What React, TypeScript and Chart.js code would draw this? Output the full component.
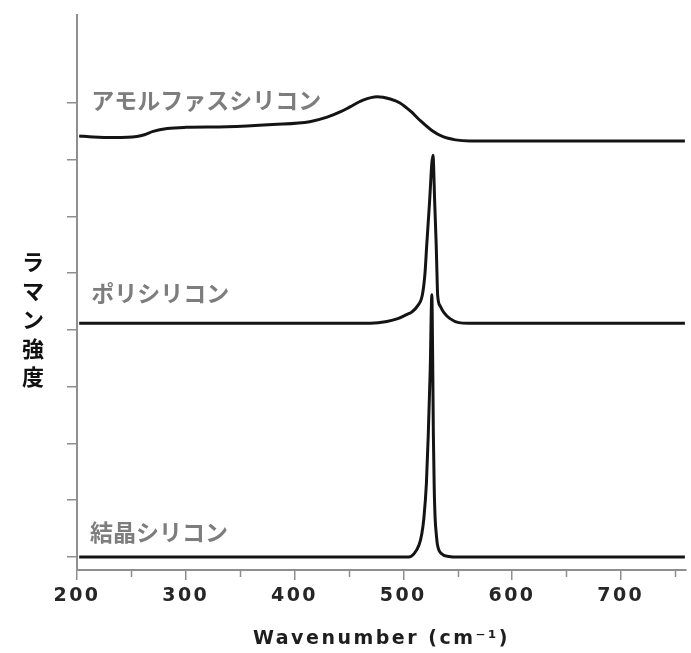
import React, { useEffect, useRef } from "react";
import { Chart, registerables } from "chart.js";

Chart.register(...registerables);

// ---- data ----
const amorphWn = [202, 215, 235, 255, 262, 270, 283, 300, 338, 380, 414, 430, 443, 451, 463, 476, 488, 497, 507, 515, 526, 536, 548, 561, 580, 759];
const amorphInt = [7.42, 7.40, 7.39, 7.41, 7.44, 7.50, 7.55, 7.57, 7.58, 7.62, 7.67, 7.75, 7.85, 7.93, 8.05, 8.11, 8.07, 8.0, 7.85, 7.70, 7.52, 7.41, 7.35, 7.33, 7.33, 7.33];

const polyWn = [202, 470, 485, 495, 503, 508, 513, 517.6, 520, 521.6, 524, 527.3, 529, 530.3, 531, 531.6, 534, 537.6, 543, 551, 560, 759];
const polyInt = [4.12, 4.12, 4.15, 4.2, 4.27, 4.32, 4.42, 4.62, 5.0, 5.5, 6.2, 7.08, 6.2, 5.5, 5.0, 4.62, 4.42, 4.3, 4.2, 4.13, 4.12, 4.12];

const crystalWn = [202, 505, 510, 514.5, 517, 519, 521.3, 523.0, 524.8, 526.3, 527.0, 527.7, 528.5, 529.3, 530.4, 531.5, 535, 542, 550, 759];
const crystalInt = [0, 0, 0.06, 0.21, 0.4, 0.69, 1.3, 2.15, 3.3, 4.62, 3.6, 2.15, 1.2, 0.69, 0.4, 0.21, 0.06, 0.01, 0, 0];

const seriesNames = ["アモルファスシリコン", "ポリシリコン", "結晶シリコン"];
const xTicks = [200, 250, 300, 350, 400, 450, 500, 550, 600, 650, 700, 750];
const yTicks = [0, 1, 2, 3, 4, 5, 6, 7, 8];
const xTitle = "Wavenumber (cm⁻¹)";
const yTitle = "ラマン強度";

const toPoints = (xs: number[], ys: number[]) => xs.map((x, i) => ({ x, y: ys[i] }));

const AXIS = "#8f8f8f";

export default function App() {
  const ref = useRef<HTMLCanvasElement | null>(null);

  useEffect(() => {
    if (!ref.current) return;

    const decor = {
      id: "decor",
      beforeDraw(chart: any) {
        chart.ctx.letterSpacing = "2.5px";
      },
      beforeDatasetsDraw(chart: any) {
        chart.ctx.letterSpacing = "0px";
      },
      afterDraw(chart: any) {
        const ctx = chart.ctx;
        const xs = chart.scales.x;
        const ys = chart.scales.y;
        ctx.save();
        ctx.letterSpacing = "0px";
        // minor ticks on x axis
        ctx.strokeStyle = AXIS;
        ctx.lineWidth = 1.5;
        xTicks.filter((v) => v % 100 !== 0).forEach((v) => {
          const px = Math.round(xs.getPixelForValue(v)) + 0.5;
          ctx.beginPath();
          ctx.moveTo(px, chart.chartArea.bottom);
          ctx.lineTo(px, chart.chartArea.bottom + 7);
          ctx.stroke();
        });
        // series labels
        const anchors = [
          { x: 213, y: 8.05 },
          { x: 213, y: 4.65 },
          { x: 212, y: 0.44 },
        ];
        ctx.fillStyle = "#7d7d7d";
        ctx.font = "bold 23px 'Noto Sans CJK JP'";
        ctx.textAlign = "left";
        ctx.textBaseline = "middle";
        seriesNames.forEach((t, i) => {
          ctx.fillText(t, xs.getPixelForValue(anchors[i].x), ys.getPixelForValue(anchors[i].y));
        });
        // y title, stacked characters
        ctx.fillStyle = "#111";
        ctx.font = "bold 22px 'Noto Sans CJK JP'";
        ctx.textAlign = "center";
        const chars = Array.from(yTitle);
        const cy = 319.5;
        chars.forEach((c, i) => {
          ctx.fillText(c, 33, cy + (i - (chars.length - 1) / 2) * 28.75);
        });
        ctx.restore();
      },
    };

    const chart = new Chart(ref.current, {
      type: "line",
      data: {
        datasets: [
          { label: seriesNames[0], data: toPoints(amorphWn, amorphInt) },
          { label: seriesNames[1], data: toPoints(polyWn, polyInt) },
          { label: seriesNames[2], data: toPoints(crystalWn, crystalInt) },
        ].map((d) => ({
          ...d,
          borderColor: "#141414",
          borderWidth: 3,
          pointRadius: 0,
          fill: false,
          cubicInterpolationMode: "monotone" as const,
        })),
      },
      options: {
        animation: false,
        responsive: false,
        layout: { padding: { top: 15, right: 5, left: 0, bottom: 0 } },
        plugins: { legend: { display: false }, tooltip: { enabled: false } },
        scales: {
          x: {
            type: "linear",
            min: 200,
            max: 760,
            afterBuildTicks: (s: any) => {
              s.ticks = xTicks.map((v) => ({ value: v }));
            },
            afterFit: (s: any) => {
              s.height = 83;
            },
            border: { color: AXIS, width: 2 },
            grid: {
              drawOnChartArea: false,
              tickLength: 10,
              lineWidth: 1.5,
              color: (c: any) => (c.tick && c.tick.value % 100 === 0 ? AXIS : "rgba(0,0,0,0)"),
            },
            ticks: {
              autoSkip: false,
              maxRotation: 0,
              padding: 5,
              color: "#262626",
              font: { family: "'DejaVu Sans'", size: 19, weight: "bold" },
              callback: (v: any) => (Number(v) % 100 === 0 ? String(v) : ""),
            },
            title: {
              display: true,
              text: xTitle,
              color: "#1e1e1e",
              font: { family: "'DejaVu Sans'", size: 19, weight: "bold" },
              padding: { top: 0, bottom: 3 },
            },
          },
          y: {
            type: "linear",
            min: -0.229,
            max: 9.55,
            afterBuildTicks: (s: any) => {
              s.ticks = yTicks.map((v) => ({ value: v }));
            },
            afterFit: (s: any) => {
              s.width = 77;
            },
            border: { color: AXIS, width: 2 },
            grid: { drawOnChartArea: false, tickLength: 10, lineWidth: 1.5, color: AXIS },
            ticks: { display: false },
          },
        },
      },
      plugins: [decor],
    });
    return () => chart.destroy();
  }, []);

  return (
    <div style={{ position: "fixed", left: 0, top: 0, width: 691, height: 653, background: "#fff" }}>
      <canvas ref={ref} width={691} height={653} />
    </div>
  );
}
